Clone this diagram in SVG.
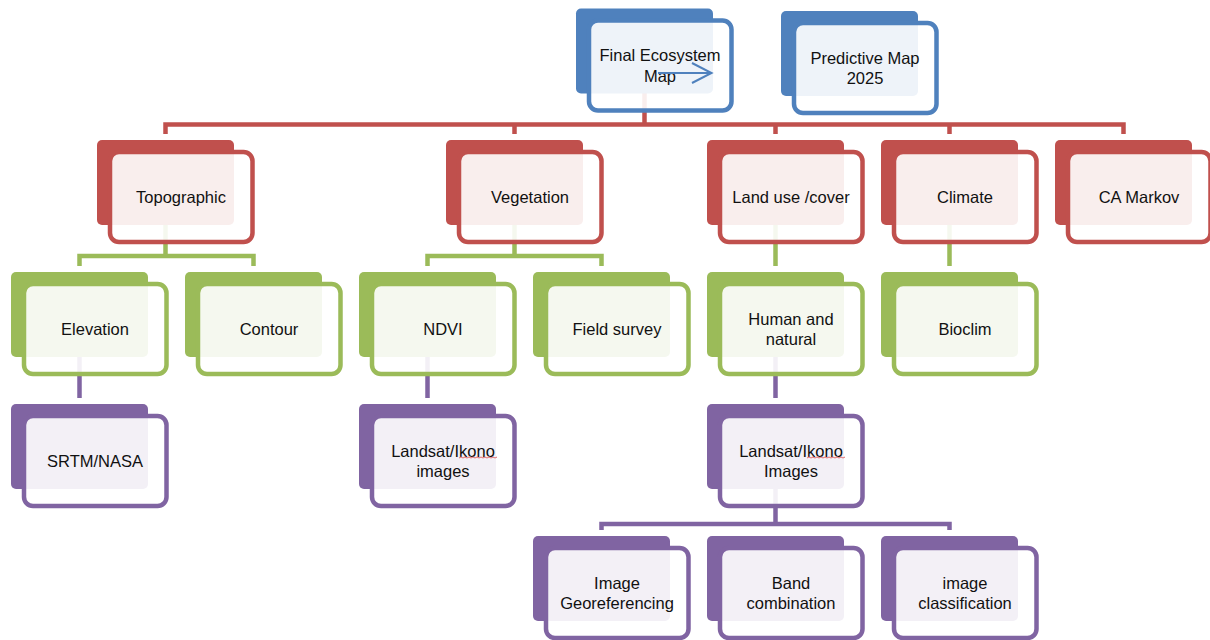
<svg xmlns="http://www.w3.org/2000/svg" width="1210" height="640" viewBox="0 0 1210 640">
<style>
  .bg{fill:#ffffff}
  .back{stroke:none}
  .front{fill:#ffffff;fill-opacity:0.9;stroke-width:4.5}
  .blue .back{fill:#4f81bd} .blue .front{stroke:#4f81bd}
  .red .back{fill:#c0504d} .red .front{stroke:#c0504d}
  .green .back{fill:#9bbb59} .green .front{stroke:#9bbb59}
  .purple .back{fill:#8064a2} .purple .front{stroke:#8064a2}
  .t{font-family:"Liberation Sans",Arial,sans-serif;font-size:16.5px;fill:#111111;text-anchor:middle}
  .c{fill:none;stroke-width:4.5;stroke-linecap:butt;stroke-linejoin:miter}
  .cr{stroke:#c0504d} .cg{stroke:#9bbb59} .cp{stroke:#8064a2}
  .squig{fill:none;stroke:#e36c6c;stroke-width:1}
</style>
<rect class="bg" x="0" y="0" width="1210" height="640"/>

<g id="connectors">
  <path class="c cr" d="M644.5,93 V124.5"/>
  <path class="c cr" d="M165.5,134 V124.5 H1123.5 V134"/>
  <path class="c cr" d="M514.5,124.5 V134 M775.5,124.5 V134 M949.5,124.5 V134"/>
  <path class="c cg" d="M165.5,225 V256 M79.5,266 V256 H253.5 V266"/>
  <path class="c cg" d="M514.5,225 V256 M427.5,266 V256 H601.5 V266"/>
  <path class="c cg" d="M775.5,225 V266 M949.5,225 V266"/>
  <path class="c cp" d="M79.5,357 V398 M427.5,357 V398 M775.5,357 V398"/>
  <path class="c cp" d="M775.5,489 V524 M601.5,530 V524 H949.5 V530"/>
</g>

<g id="n-final" class="blue">
  <rect class="back" x="576" y="8.5" width="137" height="85" rx="5"/>
  <rect class="front" x="589" y="20.5" width="142.5" height="90" rx="9"/>
  <text class="t" x="660" y="61">Final Ecosystem</text>
  <text class="t" x="660" y="81.5">Map</text>
  <path d="M658,73 H711 M692,63 L711.5,73 L692,83" fill="none" stroke="#4f81bd" stroke-width="2"/>
</g>
<g id="n-predictive" class="blue">
  <rect class="back" x="781" y="11" width="137" height="85" rx="5"/>
  <rect class="front" x="794" y="23" width="142.5" height="90" rx="9"/>
  <text class="t" x="865" y="64">Predictive Map</text>
  <text class="t" x="865" y="84">2025</text>
</g>

<g id="n-topographic" class="red">
  <rect class="back" x="97" y="140" width="137" height="85" rx="5"/>
  <rect class="front" x="110" y="152" width="142.5" height="90" rx="9"/>
  <text class="t" x="181" y="203">Topographic</text>
</g>
<g id="n-vegetation" class="red">
  <rect class="back" x="446" y="140" width="137" height="85" rx="5"/>
  <rect class="front" x="459" y="152" width="142.5" height="90" rx="9"/>
  <text class="t" x="530" y="203">Vegetation</text>
</g>
<g id="n-landuse" class="red">
  <rect class="back" x="707" y="140" width="137" height="85" rx="5"/>
  <rect class="front" x="720" y="152" width="142.5" height="90" rx="9"/>
  <text class="t" x="791" y="203">Land use /cover</text>
</g>
<g id="n-climate" class="red">
  <rect class="back" x="881" y="140" width="137" height="85" rx="5"/>
  <rect class="front" x="894" y="152" width="142.5" height="90" rx="9"/>
  <text class="t" x="965" y="203">Climate</text>
</g>
<g id="n-camarkov" class="red">
  <rect class="back" x="1055" y="140" width="137" height="85" rx="5"/>
  <rect class="front" x="1068" y="152" width="142.5" height="90" rx="9"/>
  <text class="t" x="1139" y="203">CA Markov</text>
</g>

<g id="n-elevation" class="green">
  <rect class="back" x="11" y="272" width="137" height="85" rx="5"/>
  <rect class="front" x="24" y="284" width="142.5" height="90" rx="9"/>
  <text class="t" x="95" y="335">Elevation</text>
</g>
<g id="n-contour" class="green">
  <rect class="back" x="185" y="272" width="137" height="85" rx="5"/>
  <rect class="front" x="198" y="284" width="142.5" height="90" rx="9"/>
  <text class="t" x="269" y="335">Contour</text>
</g>
<g id="n-ndvi" class="green">
  <rect class="back" x="359" y="272" width="137" height="85" rx="5"/>
  <rect class="front" x="372" y="284" width="142.5" height="90" rx="9"/>
  <text class="t" x="443" y="335">NDVI</text>
</g>
<g id="n-fieldsurvey" class="green">
  <rect class="back" x="533" y="272" width="137" height="85" rx="5"/>
  <rect class="front" x="546" y="284" width="142.5" height="90" rx="9"/>
  <text class="t" x="617" y="335">Field survey</text>
</g>
<g id="n-human" class="green">
  <rect class="back" x="707" y="272" width="137" height="85" rx="5"/>
  <rect class="front" x="720" y="284" width="142.5" height="90" rx="9"/>
  <text class="t" x="791" y="324.5">Human and</text>
  <text class="t" x="791" y="345">natural</text>
</g>
<g id="n-bioclim" class="green">
  <rect class="back" x="881" y="272" width="137" height="85" rx="5"/>
  <rect class="front" x="894" y="284" width="142.5" height="90" rx="9"/>
  <text class="t" x="965" y="335">Bioclim</text>
</g>

<g id="n-srtm" class="purple">
  <rect class="back" x="11" y="404" width="137" height="85" rx="5"/>
  <rect class="front" x="24" y="416" width="142.5" height="90" rx="9"/>
  <text class="t" x="95" y="467">SRTM/NASA</text>
</g>
<g id="n-landsat1" class="purple">
  <rect class="back" x="359" y="404" width="137" height="85" rx="5"/>
  <rect class="front" x="372" y="416" width="142.5" height="90" rx="9"/>
  <text class="t" x="443" y="456.5">Landsat/Ikono</text>
  <text class="t" x="443" y="477">images</text>
  <polyline class="squig" points="459,458 461,457 463,458 465,457 467,458 469,457 471,458 473,457 475,458 477,457 479,458 481,457 483,458 485,457 487,458 489,457 491,458 493,457 495,458 497,457"/>
</g>
<g id="n-landsat2" class="purple">
  <rect class="back" x="707" y="404" width="137" height="85" rx="5"/>
  <rect class="front" x="720" y="416" width="142.5" height="90" rx="9"/>
  <text class="t" x="791" y="456.5">Landsat/Ikono</text>
  <text class="t" x="791" y="477">Images</text>
  <polyline class="squig" points="807,458 809,457 811,458 813,457 815,458 817,457 819,458 821,457 823,458 825,457 827,458 829,457 831,458 833,457 835,458 837,457 839,458 841,457 843,458 845,457"/>
</g>

<g id="n-georef" class="purple">
  <rect class="back" x="533" y="536" width="137" height="85" rx="5"/>
  <rect class="front" x="546" y="548" width="142.5" height="90" rx="9"/>
  <text class="t" x="617" y="588.5">Image</text>
  <text class="t" x="617" y="609">Georeferencing</text>
</g>
<g id="n-band" class="purple">
  <rect class="back" x="707" y="536" width="137" height="85" rx="5"/>
  <rect class="front" x="720" y="548" width="142.5" height="90" rx="9"/>
  <text class="t" x="791" y="588.5">Band</text>
  <text class="t" x="791" y="609">combination</text>
</g>
<g id="n-classification" class="purple">
  <rect class="back" x="881" y="536" width="137" height="85" rx="5"/>
  <rect class="front" x="894" y="548" width="142.5" height="90" rx="9"/>
  <text class="t" x="965" y="588.5">image</text>
  <text class="t" x="965" y="609">classification</text>
</g>
</svg>
